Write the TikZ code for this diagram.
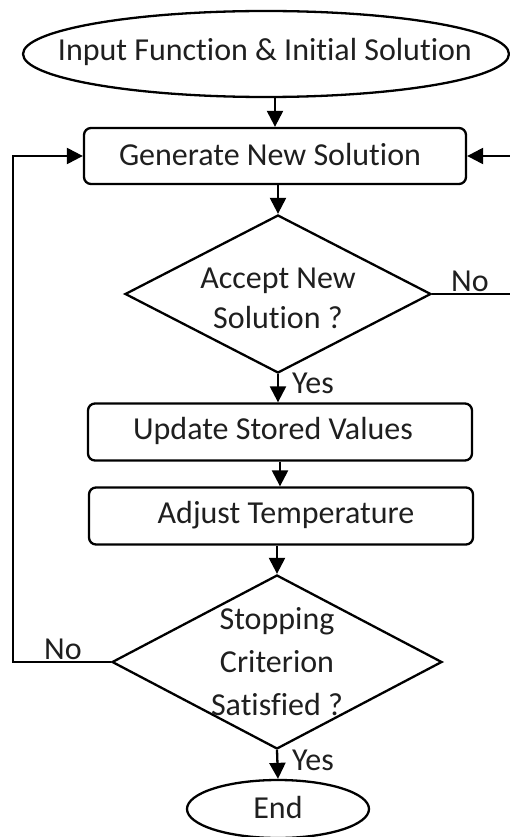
\documentclass[tikz,border=0pt]{standalone}
\usepackage{fontspec}
\setmainfont[Ligatures=NoCommon]{Carlito}
\usetikzlibrary{shapes.geometric,arrows.meta}
\begin{document}
\begin{tikzpicture}[x=1pt,y=-1pt,
  line width=2.3pt,
  every node/.style={font=\fontsize{32}{40}\selectfont, text=black!88},
  terminal/.style={draw, ellipse, inner sep=0pt},
  process/.style={draw, rectangle, rounded corners=7pt, inner sep=0pt},
  decision/.style={draw, diamond, inner sep=0pt},
  arr/.style={-{Triangle[length=16pt,width=16pt]}},
  lbl/.style={inner sep=1pt}
]
\useasboundingbox (0,0) rectangle (509,837);
% nodes
\node[terminal, minimum width=486pt, minimum height=86pt] (start) at (266,54) {};
\node (starttxt) at (265,52) {Input Function \& Initial Solution};
\node[process, minimum width=382pt, minimum height=56pt] (gen) at (275,156) {};
\node (gentxt) at (270,155) {Generate New Solution};
\node[decision, minimum width=306pt, minimum height=158pt] (d1) at (278,294) {};
\node[align=center, font=\fontsize{32}{40}\selectfont] (d1txt) at (278,298) {Accept New\\Solution ?};
\node[process, minimum width=384pt, minimum height=57pt] (upd) at (280,432) {};
\node (updtxt) at (273,431) {Update Stored Values};
\node[process, minimum width=384pt, minimum height=57pt] (adj) at (281,516) {};
\node (adjtxt) at (286,515) {Adjust Temperature};
\node[decision, minimum width=330pt, minimum height=174pt] (d2) at (277,662) {};
\node[align=center, font=\fontsize{32}{43}\selectfont] (d2txt) at (277,662) {Stopping\\Criterion\\Satisfied ?};
\node[terminal, minimum width=182pt, minimum height=58pt] (end) at (278,809) {};
\node (endtxt) at (278,807) {End};
% helper coordinates
\coordinate (rr) at (512,294);
\coordinate (ll) at (13,662);
% connectors
\draw[arr] (gen.north |- start.south) -- (gen.north);
\draw[arr] (gen.south -| d1.north) -- (d1.north);
\draw[arr] (d1.south) -- (d1.south |- upd.north);
\draw[arr] (upd.south) -- (upd.south |- adj.north);
\draw[arr] (adj.south -| d2.north) -- (d2.north);
\draw[arr] (d2.south) -- (end.north);
\draw[arr] (d1.east) -- (rr) |- (gen.east);
\draw[arr] (d2.west) -- (ll) |- (gen.west);
% labels
\node[lbl, anchor=west] (y1) at (290,383) {Yes};
\node[lbl, anchor=south] (n1) at (470,294) {No};
\node[lbl, anchor=west] (y2) at (290,760) {Yes};
\node[lbl, anchor=south] (n2) at (63,662) {No};
\end{tikzpicture}
\end{document}
